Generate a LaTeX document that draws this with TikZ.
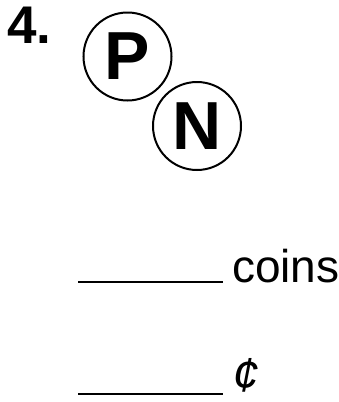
\documentclass[tikz,border=0pt]{standalone}
\usepackage{fontspec}
\setmainfont{Liberation Sans}
\begin{document}
\begin{tikzpicture}[x=1pt,y=-1pt,
  coin/.style={circle,draw,line width=2pt,minimum size=88pt,inner sep=0pt,font=\fontsize{68}{68}\selectfont\bfseries},
  blank/.style={line width=1.8pt},
  lbl/.style={anchor=base west,inner sep=0pt,font=\fontsize{46}{46}\selectfont}]
\useasboundingbox (0,0) rectangle (339,402);
\node[anchor=base west,inner sep=0pt,font=\fontsize{53}{53}\selectfont\bfseries] (num) at (7,43) {4.};
\node[coin] (p) at (127.5,56.5) {P};
\node[coin] (n) at (197,126) {N};
\coordinate (a1) at (78,282);
\coordinate (a2) at (223,282);
\draw[blank] (a1) -- (a2);
\node[lbl] (coins) at (232,282) {coins};
\coordinate (b1) at (78,394);
\coordinate (b2) at (223,394);
\draw[blank] (b1) -- (b2);
\node[lbl,font=\fontsize{48}{48}\selectfont\itshape] (cent) at (232,391) {¢};
\end{tikzpicture}
\end{document}
